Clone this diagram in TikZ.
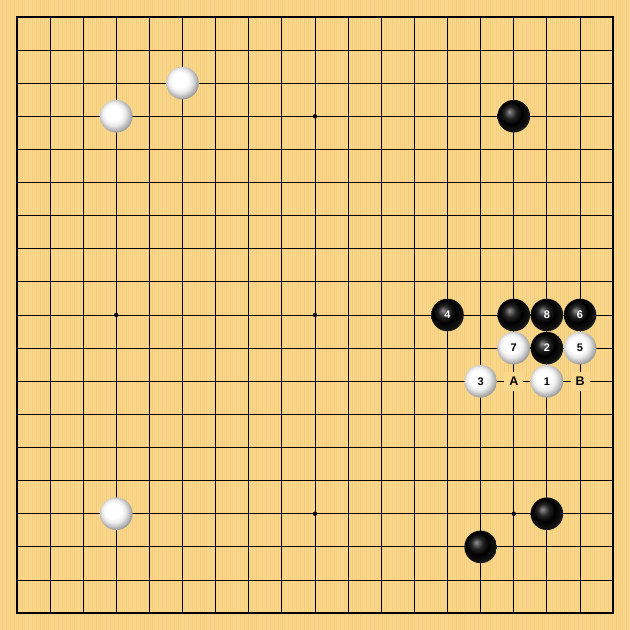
\documentclass[tikz,border=0pt]{standalone}
\usepackage{fontspec}
\setsansfont{Liberation Sans}
\definecolor{wood}{HTML}{F9D88E}
\definecolor{streak}{HTML}{EFBD5C}
\pgfdeclareradialshading{wball}{\pgfpoint{-6bp}{6bp}}{color(0bp)=(white); color(12bp)=(white); color(18bp)=(black!8); color(24bp)=(black!28); color(30bp)=(black!48); color(34bp)=(black!52); color(50bp)=(black!52)}
\pgfdeclareradialshading{bball}{\pgfpoint{-7bp}{7bp}}{color(0bp)=(black!42); color(3bp)=(black!58); color(9bp)=(black!86); color(17bp)=(black); color(26bp)=(black!92); color(32bp)=(black!72); color(50bp)=(black!72)}
\tikzset{
  gridline/.style={line width=0.9pt, draw=black},
  edge/.style={line width=1.5pt, draw=black},
  stonebase/.style={circle, minimum size=32.6pt, inner sep=0pt, font=\sffamily\bfseries\fontsize{11}{11}\selectfont},
  bstone/.style={stonebase, shading=bball, text=white},
  wstone/.style={stonebase, shading=wball, text=black},
  markbox/.style={fill=wood, inner sep=0pt, minimum size=19pt, font=\sffamily\bfseries\fontsize{12.5}{12.5}\selectfont}
}
\begin{document}
\begin{tikzpicture}[x=33.13pt, y=-33.13pt]
\path[use as bounding box, fill=wood] (-0.508,-0.508) rectangle (18.508,18.508);
\foreach \i in {0,...,314} {
  \pgfmathtruncatemacro\k{mod(\i*7,13)}
  \pgfmathsetmacro\op{0.10+0.40*\k/13}
  \fill[streak, opacity=\op] ({\i*0.06037-0.508},-0.508) rectangle +(0.03,19.016);
}
\foreach \j in {1,...,17} {
  \draw[gridline] (\j,0) -- (\j,18);
  \draw[gridline] (0,\j) -- (18,\j);
}
\draw[edge] (0,0) rectangle (18,18);
\foreach \c/\r in {3/3,9/3,15/3,3/9,9/9,15/9,3/15,9/15,15/15}
  \fill (\c,\r) circle (2.2pt);
% stones
\foreach \n/\c/\r/\s/\t in {
  w1/5/2/wstone/{}, w2/3/3/wstone/{}, b1/15/3/bstone/{},
  m4/13/9/bstone/4, b2/15/9/bstone/{}, m8/16/9/bstone/8, m6/17/9/bstone/6,
  m7/15/10/wstone/7, m2/16/10/bstone/2, m5/17/10/wstone/5,
  m3/14/11/wstone/3, m1/16/11/wstone/1,
  w3/3/15/wstone/{}, b3/16/15/bstone/{}, b4/14/16/bstone/{}}
  \node[\s] (\n) at (\c,\r) {\t};
\node[markbox] (A) at (15,11) {A};
\node[markbox] (B) at (17,11) {B};
\end{tikzpicture}
\end{document}
